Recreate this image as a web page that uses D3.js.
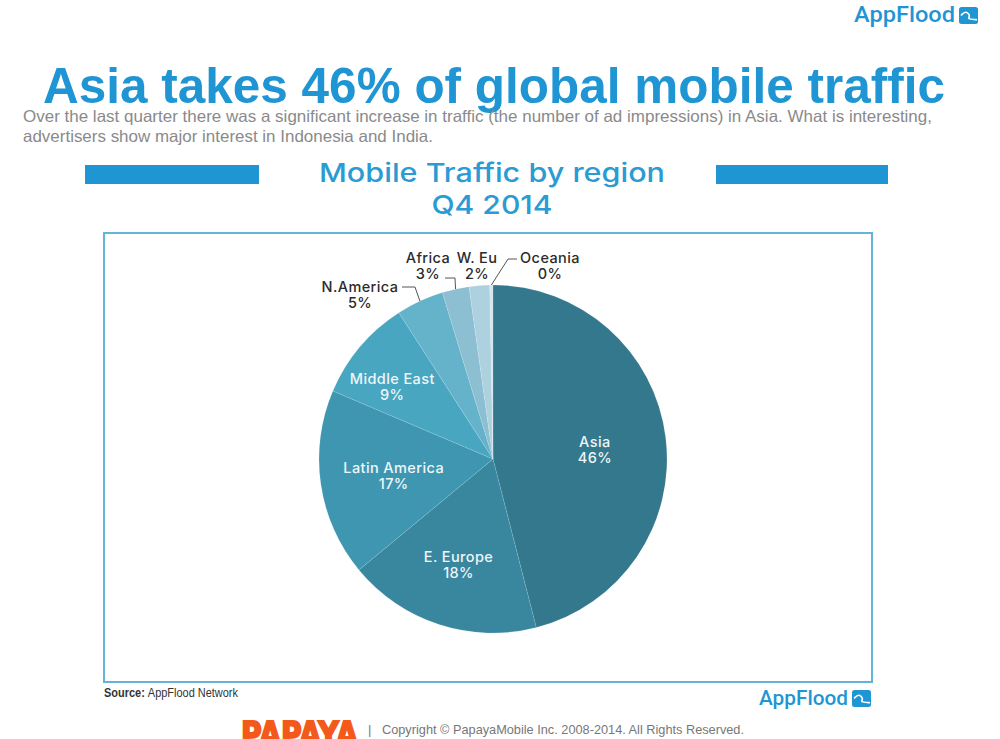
<!DOCTYPE html>
<html>
<head>
<meta charset="utf-8">
<script src="https://cdn.jsdelivr.net/npm/d3@7"></script>
<style>
  html, body { margin: 0; padding: 0; background: #fff; overflow: hidden; }
  svg { display: block; }
  .lbl { font-family: Inter, "Open Sans", sans-serif; font-size: 14.5px; font-weight: 500; letter-spacing: 0.4px; text-anchor: middle; }
</style>
</head>
<body>
<div id="chart"></div>
<script>
var regions = ["Asia", "E. Europe", "Latin America", "Middle East", "N.America", "Africa", "W. Eu", "Oceania"];
var sliceSizes = [46, 18, 17.4, 9.5, 4.4, 2.5, 1.9, 0.3];
var printedShares = ["46%", "18%", "17%", "9%", "5%", "3%", "2%", "0%"];
var sliceColors = ["#33788c", "#39879f", "#3f96b0", "#48a6c1", "#65b2cb", "#8cbfd2", "#aed1df", "#d5e6ed"];

var titleText = "Asia takes 46% of global mobile traffic";
var bodyLines = [
  "Over the last quarter there was a significant increase in traffic (the number of ad impressions) in Asia. What is interesting,",
  "advertisers show major interest in Indonesia and India."
];
var chartTitle = ["Mobile Traffic by region", "Q4 2014"];

var blue = "#1f96d3";
var width = 1000, height = 739;
var cx = 493, cy = 459, radius = 174;

var svg = d3.select("#chart").append("svg")
  .attr("width", width)
  .attr("height", height);

// page heading
svg.append("text")
  .attr("x", 43).attr("y", 103)
  .attr("textLength", 902).attr("lengthAdjust", "spacingAndGlyphs")
  .style("font-family", "'Liberation Sans', Arial, sans-serif")
  .style("font-weight", "bold").style("font-size", "50px")
  .attr("fill", blue)
  .text(titleText);

var bodyWidths = [909, 410];
bodyLines.forEach(function(line, i) {
  svg.append("text")
    .attr("x", 23).attr("y", 122 + i * 20)
    .attr("textLength", bodyWidths[i]).attr("lengthAdjust", "spacingAndGlyphs")
    .style("font-family", "'Liberation Sans', Arial, sans-serif")
    .style("font-size", "16.5px")
    .attr("fill", "#8a8a8a")
    .text(line);
});

// chart heading with the two bars
svg.append("rect").attr("x", 85).attr("y", 165).attr("width", 174).attr("height", 19).attr("fill", blue);
svg.append("rect").attr("x", 716).attr("y", 165).attr("width", 172).attr("height", 19).attr("fill", blue);

var headWidths = [346, 121];
chartTitle.forEach(function(line, i) {
  svg.append("text")
    .attr("x", 492).attr("y", 182 + i * 32)
    .attr("text-anchor", "middle")
    .attr("textLength", headWidths[i]).attr("lengthAdjust", "spacingAndGlyphs")
    .style("font-family", "Inter, 'Open Sans', sans-serif")
    .style("font-size", "26px").style("font-weight", 500)
    .attr("fill", "#2a9bd3")
    .text(line);
});

// frame
svg.append("rect")
  .attr("x", 104).attr("y", 233).attr("width", 768).attr("height", 449)
  .attr("fill", "none").attr("stroke", "#62b4da").attr("stroke-width", 2);

// pie
var pie = d3.pie().sort(null).value(function(d) { return d; });
var arcs = pie(sliceSizes);
var arc = d3.arc().innerRadius(0).outerRadius(radius);
var g = svg.append("g").attr("transform", "translate(" + cx + "," + cy + ")");

g.selectAll("path.slice")
  .data(arcs)
  .enter().append("path")
  .attr("class", "slice")
  .attr("d", arc)
  .attr("fill", function(d, i) { return sliceColors[i]; })
  .attr("stroke", "#fff")
  .attr("stroke-opacity", 0.2)
  .attr("stroke-width", 0.6);

// labels inside the pie: radial factor plus a small nudge per slice
var insideAt = [
  { r: 0.59, dx: 0, dy: 2 },
  { r: 0.66, dx: 1, dy: -5 },
  { r: 0.6, dx: 4, dy: 0 },
  { r: 0.72, dx: -5, dy: 7 }
];
insideAt.forEach(function(p, k) {
  var d = arcs[k];
  var a = (d.startAngle + d.endAngle) / 2;
  var x = radius * p.r * Math.sin(a) + p.dx, y = -radius * p.r * Math.cos(a) + p.dy;
  var t = g.append("text").attr("class", "lbl").attr("fill", "#eef6f9").attr("x", x).attr("y", y);
  t.append("tspan").attr("x", x).attr("dy", "-1px").text(regions[k]);
  t.append("tspan").attr("x", x).attr("dy", "16px").text(printedShares[k]);
});

// labels outside with leader lines that end on the rim
var outside = [
  { i: 4, x: 360, y: 292, from: [402, 287], mid: [415, 287] },
  { i: 5, x: 428, y: 263, from: [445, 278], mid: [455, 278] },
  { i: 6, x: 477, y: 263, from: null },
  { i: 7, x: 550, y: 263, from: [517, 259], mid: [508, 259] }
];
outside.forEach(function(o) {
  var t = svg.append("text").attr("class", "lbl").attr("fill", "#2b2b2b").attr("x", o.x).attr("y", o.y);
  t.append("tspan").attr("x", o.x).text(regions[o.i]);
  t.append("tspan").attr("x", o.x).attr("dy", "16px").text(printedShares[o.i]);
  if (o.from) {
    var d = arcs[o.i];
    var a = (d.startAngle + d.endAngle) / 2;
    var end = [cx + radius * Math.sin(a), cy - radius * Math.cos(a)];
    svg.append("path")
      .attr("d", d3.line()([o.from, o.mid, end]))
      .attr("fill", "none").attr("stroke", "#555").attr("stroke-width", 1);
  }
});

// source line
var src = svg.append("text").attr("x", 104).attr("y", 697)
  .attr("textLength", 134).attr("lengthAdjust", "spacingAndGlyphs")
  .style("font-family", "'Liberation Sans Narrow', 'Liberation Sans', sans-serif")
  .style("font-size", "12px").attr("fill", "#333");
src.append("tspan").style("font-weight", "bold").text("Source: ");
src.append("tspan").text("AppFlood Network");

// AppFlood logos
function logo(x, y, w, size, box) {
  svg.append("text")
    .attr("x", x).attr("y", y)
    .attr("textLength", w).attr("lengthAdjust", "spacingAndGlyphs")
    .style("font-family", "Roboto, sans-serif")
    .style("font-size", size + "px").style("font-weight", 500)
    .attr("fill", blue)
    .text("AppFlood");
  var bx = x + w + 4, by = y - box + 2;
  svg.append("rect").attr("x", bx).attr("y", by).attr("width", box + 2).attr("height", box)
    .attr("rx", 2.5).attr("fill", blue);
  svg.append("path")
    .attr("d", d3.line().curve(d3.curveBasis)([
      [bx + 2, by + box * 0.5], [bx + box * 0.4, by + box * 0.2], [bx + box * 0.7, by + box * 0.55],
      [bx + box * 0.45, by + box * 0.7], [bx + box + 1, by + box * 0.75]
    ]))
    .attr("fill", "none").attr("stroke", "#fff").attr("stroke-width", 1.6);
}
logo(854, 22, 101, 22, 17);
logo(759, 705, 89, 21, 17);

// footer
svg.append("text")
  .attr("x", 241).attr("y", 746)
  .attr("textLength", 117).attr("lengthAdjust", "spacingAndGlyphs")
  .style("font-family", "'DejaVu Sans', sans-serif")
  .style("font-size", "34px").style("font-weight", "bold")
  .style("stroke", "#f4591c").style("stroke-width", 2)
  .attr("fill", "#f4591c")
  .text("PAPAYA");
svg.append("text")
  .attr("x", 368).attr("y", 734)
  .style("font-family", "'Liberation Sans', Arial, sans-serif")
  .style("font-size", "13px")
  .attr("fill", "#777")
  .text("|");
svg.append("text")
  .attr("x", 382).attr("y", 734)
  .attr("textLength", 362).attr("lengthAdjust", "spacingAndGlyphs")
  .style("font-family", "'Liberation Sans', Arial, sans-serif")
  .style("font-size", "13px")
  .attr("fill", "#777")
  .text("Copyright © PapayaMobile Inc. 2008-2014. All Rights Reserved.");
</script>
</body>
</html>
